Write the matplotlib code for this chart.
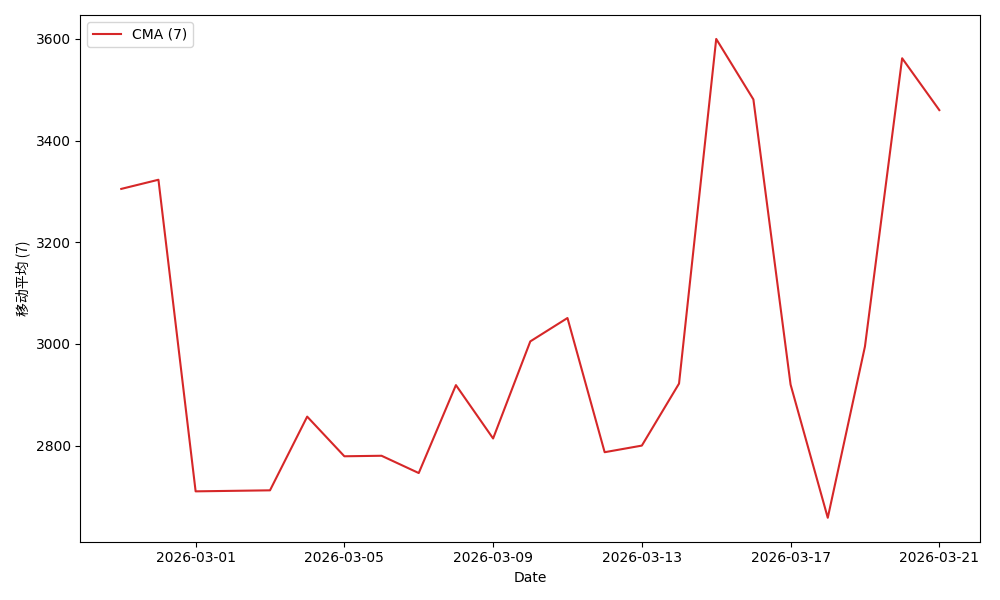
import matplotlib
matplotlib.use("Agg")
import matplotlib.pyplot as plt
import pandas as pd

# CMA (7) values
dates = pd.to_datetime([
    "2026-02-27", "2026-02-28", "2026-03-01", "2026-03-03", "2026-03-04",
    "2026-03-05", "2026-03-06", "2026-03-07", "2026-03-08", "2026-03-09",
    "2026-03-10", "2026-03-11", "2026-03-12", "2026-03-13", "2026-03-14",
    "2026-03-15", "2026-03-16", "2026-03-17", "2026-03-18", "2026-03-19",
    "2026-03-20", "2026-03-21",
])
cma = [3305, 3323, 2710, 2712, 2857,
       2779, 2780, 2746, 2919, 2814,
       3005, 3051, 2787, 2800, 2922,
       3600, 3481, 2920, 2658, 2995,
       3562, 3460]

fig, ax = plt.subplots(figsize=(10, 6), dpi=100)
ax.plot(dates, cma, color="#d62728", linewidth=1.5, label="CMA (7)")

ax.set_xticks(pd.to_datetime(["2026-03-01", "2026-03-05", "2026-03-09",
                              "2026-03-13", "2026-03-17", "2026-03-21"]))
ax.xaxis.set_major_formatter(matplotlib.dates.DateFormatter("%Y-%m-%d"))
ax.set_xlabel("Date")
ax.set_ylabel("移动平均 (7)", family=["Noto Sans CJK SC", "DejaVu Sans"])
ax.legend(loc="upper left")

plt.tight_layout()
plt.savefig("out.png", dpi=100)
